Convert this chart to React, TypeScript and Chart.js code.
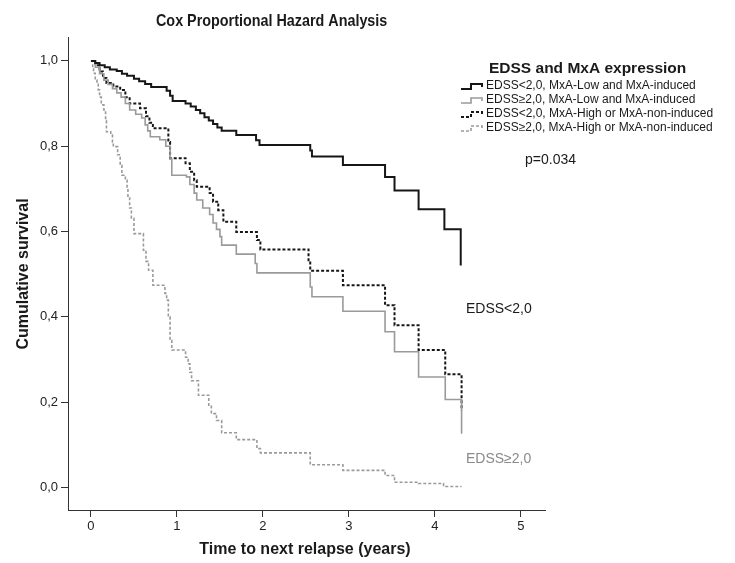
import React, { useEffect, useRef } from 'react';
import { Chart, registerables } from 'chart.js';

Chart.register(...registerables);

// ---- data ----
const seriesNames = [
  'EDSS<2,0, MxA-Low and MxA-induced',
  'EDSS\u22652,0, MxA-Low and MxA-induced',
  'EDSS<2,0, MxA-High or MxA-non-induced',
  'EDSS\u22652,0, MxA-High or MxA-non-induced',
];

// Kaplan-Meier steps: time (years) and survival after the step
const lowInducedLowEdssT = [0, 0.05, 0.1, 0.16, 0.22, 0.3, 0.36, 0.42, 0.5, 0.56, 0.63, 0.7, 0.88, 0.92, 0.95, 1.1, 1.16, 1.22, 1.27, 1.32, 1.37, 1.42, 1.47, 1.52, 1.69, 1.92, 1.96, 2.55, 2.57, 2.93, 3.42, 3.53, 3.81, 4.11, 4.3];
const lowInducedLowEdssS = [1, 0.995, 0.99, 0.985, 0.98, 0.976, 0.97, 0.965, 0.958, 0.952, 0.946, 0.939, 0.93, 0.918, 0.906, 0.9, 0.893, 0.885, 0.877, 0.868, 0.86, 0.852, 0.844, 0.836, 0.826, 0.814, 0.803, 0.79, 0.776, 0.756, 0.728, 0.696, 0.652, 0.605, 0.52];

const lowInducedHighEdssT = [0, 0.05, 0.1, 0.15, 0.2, 0.25, 0.3, 0.35, 0.4, 0.45, 0.52, 0.59, 0.63, 0.66, 0.69, 0.8, 0.87, 0.92, 0.94, 1.11, 1.15, 1.2, 1.23, 1.3, 1.38, 1.42, 1.46, 1.5, 1.52, 1.69, 1.91, 1.93, 2.55, 2.57, 2.93, 3.42, 3.53, 3.81, 4.12, 4.31];
const lowInducedHighEdssS = [1, 0.985, 0.97, 0.955, 0.945, 0.935, 0.925, 0.915, 0.9, 0.885, 0.875, 0.866, 0.85, 0.836, 0.822, 0.815, 0.8, 0.77, 0.732, 0.728, 0.71, 0.69, 0.674, 0.655, 0.64, 0.62, 0.605, 0.588, 0.568, 0.547, 0.525, 0.503, 0.47, 0.447, 0.413, 0.365, 0.318, 0.259, 0.206, 0.126];

const highNonInducedLowEdssT = [0, 0.05, 0.1, 0.14, 0.18, 0.26, 0.34, 0.4, 0.45, 0.57, 0.64, 0.68, 0.72, 0.9, 0.92, 1.1, 1.15, 1.2, 1.23, 1.38, 1.42, 1.48, 1.54, 1.69, 1.93, 1.97, 2.53, 2.55, 2.93, 3.42, 3.53, 3.81, 4.12, 4.31];
const highNonInducedLowEdssS = [1, 0.99, 0.975, 0.96, 0.948, 0.94, 0.932, 0.915, 0.9, 0.889, 0.87, 0.855, 0.842, 0.81, 0.772, 0.76, 0.74, 0.72, 0.705, 0.69, 0.67, 0.65, 0.623, 0.599, 0.58, 0.558, 0.53, 0.508, 0.474, 0.427, 0.38, 0.322, 0.265, 0.18];

const highNonInducedHighEdssT = [0, 0.02, 0.03, 0.05, 0.07, 0.085, 0.1, 0.12, 0.15, 0.17, 0.18, 0.23, 0.25, 0.26, 0.31, 0.34, 0.36, 0.4, 0.42, 0.43, 0.45, 0.47, 0.5, 0.61, 0.64, 0.67, 0.72, 0.86, 0.88, 0.9, 0.92, 0.94, 1.1, 1.13, 1.15, 1.17, 1.25, 1.37, 1.4, 1.46, 1.52, 1.69, 1.93, 1.97, 2.55, 2.93, 3.42, 3.53, 3.81, 4.1, 4.31];
const highNonInducedHighEdssS = [1, 0.985, 0.971, 0.955, 0.945, 0.932, 0.915, 0.897, 0.885, 0.86, 0.834, 0.826, 0.81, 0.799, 0.78, 0.755, 0.732, 0.72, 0.7, 0.681, 0.655, 0.631, 0.595, 0.556, 0.53, 0.509, 0.474, 0.455, 0.439, 0.4, 0.345, 0.322, 0.305, 0.29, 0.27, 0.25, 0.216, 0.19, 0.173, 0.157, 0.128, 0.112, 0.091, 0.081, 0.053, 0.04, 0.028, 0.012, 0.009, 0.002, 0.002];

const xTickValues = [0, 1, 2, 3, 4, 5];
const xTickLabels = ['0', '1', '2', '3', '4', '5'];
const yTickValues = [0, 0.2, 0.4, 0.6, 0.8, 1.0];
const yTickLabels = ['0,0', '0,2', '0,4', '0,6', '0,8', '1,0'];

const titleText = 'Cox Proportional Hazard Analysis';
const xTitleText = 'Time to next relapse (years)';
const yTitleText = 'Cumulative survival';
const legendTitleText = 'EDSS and MxA expression';
const pValueText = 'p=0.034';
const lowEdssLabel = 'EDSS<2,0';
const highEdssLabel = 'EDSS\u22652,0';

const FONT = '"Liberation Sans", Arial, Helvetica, sans-serif';
const BLACK = '#161616';
const GRAY = '#9a9a9a';

const toPoints = (t: number[], s: number[]) => t.map((x, i) => ({ x, y: s[i] }));

function scaledText(ctx: CanvasRenderingContext2D, text: string, x: number, y: number, sx: number) {
  ctx.save();
  ctx.translate(x, y);
  ctx.scale(sx, 1);
  ctx.fillText(text, 0, 0);
  ctx.restore();
}

const textPlugin = {
  id: 'textPlugin',
  afterDraw(chart: any) {
    const ctx = chart.ctx as CanvasRenderingContext2D;
    ctx.save();
    ctx.textBaseline = 'middle';
    ctx.fillStyle = '#1a1a1a';
    // main title (left edge ~156)
    ctx.font = `bold 16.5px ${FONT}`;
    ctx.textAlign = 'left';
    scaledText(ctx, titleText, 156, 21, 0.87);
    // x title
    ctx.textAlign = 'center';
    ctx.font = `bold 16px ${FONT}`;
    ctx.fillText(xTitleText, 305, 550);
    // y title
    ctx.save();
    ctx.translate(24, 274);
    ctx.rotate(-Math.PI / 2);
    ctx.fillText(yTitleText, 0, 0);
    ctx.restore();
    // legend title
    ctx.textAlign = 'left';
    ctx.font = `bold 15.5px ${FONT}`;
    ctx.fillText(legendTitleText, 489, 69);
    // legend entries
    ctx.font = `12px ${FONT}`;
    const rows = [86, 100, 114, 128];
    chart.data.datasets.forEach((ds: any, i: number) => {
      const y = rows[i];
      ctx.save();
      ctx.strokeStyle = ds.borderColor;
      ctx.lineWidth = ds.borderWidth;
      ctx.setLineDash(ds.borderDash || []);
      ctx.beginPath();
      ctx.moveTo(461, y + 3);
      ctx.lineTo(471, y + 3);
      ctx.lineTo(471, y - 2);
      ctx.lineTo(482, y - 2);
      ctx.lineTo(482, y + 1);
      ctx.stroke();
      ctx.restore();
      ctx.fillStyle = '#1a1a1a';
      ctx.fillText(ds.label, 486, y);
    });
    // p value
    ctx.font = `14px ${FONT}`;
    ctx.fillText(pValueText, 525, 160);
    // group labels
    ctx.fillText(lowEdssLabel, 466, 309);
    ctx.fillStyle = '#8a8a8a';
    ctx.fillText(highEdssLabel, 466, 459);
    ctx.restore();
  },
};

export default function App() {
  const ref = useRef<HTMLCanvasElement>(null);
  useEffect(() => {
    if (!ref.current) return;
    const chart = new Chart(ref.current, {
      type: 'line',
      data: {
        datasets: [
          {
            label: seriesNames[0],
            data: toPoints(lowInducedLowEdssT, lowInducedLowEdssS),
            borderColor: BLACK,
            borderWidth: 2,
            stepped: true,
            pointRadius: 0,
          },
          {
            label: seriesNames[1],
            data: toPoints(lowInducedHighEdssT, lowInducedHighEdssS),
            borderColor: GRAY,
            borderWidth: 1.6,
            stepped: true,
            pointRadius: 0,
          },
          {
            label: seriesNames[2],
            data: toPoints(highNonInducedLowEdssT, highNonInducedLowEdssS),
            borderColor: BLACK,
            borderWidth: 2,
            borderDash: [3, 2],
            stepped: true,
            pointRadius: 0,
          },
          {
            label: seriesNames[3],
            data: toPoints(highNonInducedHighEdssT, highNonInducedHighEdssS),
            borderColor: GRAY,
            borderWidth: 1.6,
            borderDash: [3, 2],
            stepped: true,
            pointRadius: 0,
          },
        ],
      },
      options: {
        animation: false,
        responsive: false,
        maintainAspectRatio: false,
        devicePixelRatio: 1,
        layout: { padding: { left: 0, right: 190, top: 37, bottom: 0 } },
        plugins: { legend: { display: false }, tooltip: { enabled: false }, title: { display: false } },
        scales: {
          x: {
            type: 'linear',
            min: -0.267,
            max: 5.28,
            afterFit: (s: any) => { s.height = 53; },
            afterBuildTicks: (s: any) => { s.ticks = xTickValues.map((v) => ({ value: v })); },
            ticks: {
              callback: (v: any) => xTickLabels[xTickValues.indexOf(Number(v))] ?? '',
              font: { family: FONT, size: 13 },
              color: '#222',
              padding: 2,
              maxRotation: 0,
              autoSkip: false,
            },
            grid: { drawOnChartArea: false, drawTicks: true, tickLength: 7, color: '#333', lineWidth: 1 },
            border: { display: true, color: '#333', width: 1 },
          },
          y: {
            type: 'linear',
            min: -0.053,
            max: 1.056,
            afterFit: (s: any) => { s.width = 68; },
            afterBuildTicks: (s: any) => { s.ticks = yTickValues.map((v) => ({ value: v })); },
            ticks: {
              callback: (v: any) => {
                const i = yTickValues.findIndex((t) => Math.abs(t - Number(v)) < 1e-6);
                return i >= 0 ? yTickLabels[i] : '';
              },
              font: { family: FONT, size: 13 },
              color: '#222',
              padding: 3,
              autoSkip: false,
            },
            grid: { drawOnChartArea: false, drawTicks: true, tickLength: 7, color: '#333', lineWidth: 1 },
            border: { display: true, color: '#333', width: 1 },
          },
        },
      },
      plugins: [textPlugin],
    } as any);
    return () => chart.destroy();
  }, []);
  return (
    <div style={{ position: 'absolute', left: 0, top: 0, width: 735, height: 563, background: '#fff' }}>
      <canvas ref={ref} width={735} height={563} style={{ display: 'block', width: 735, height: 563 }} />
    </div>
  );
}
